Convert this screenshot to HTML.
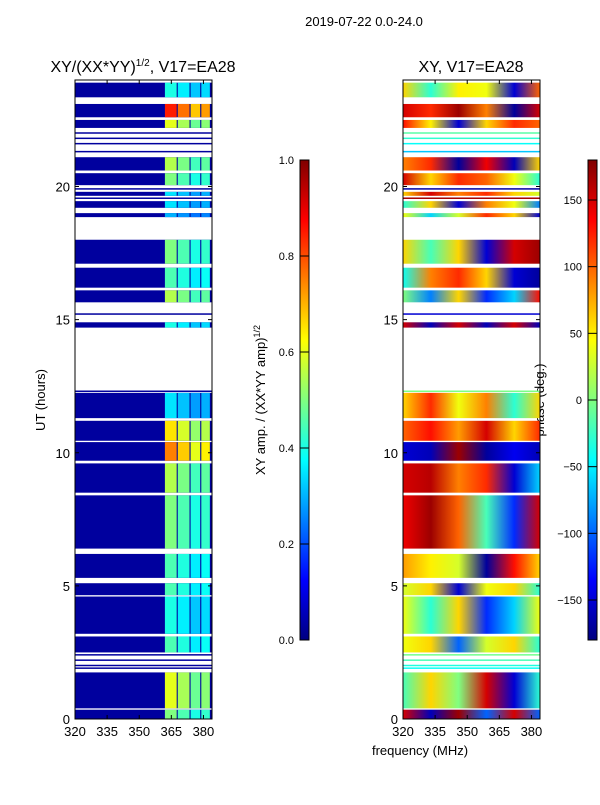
<!DOCTYPE html>
<html><head><meta charset="utf-8"><style>
body{margin:0;background:#fff;font-family:"Liberation Sans",sans-serif;}
svg text{font-family:"Liberation Sans",sans-serif;fill:#000}
</style></head><body>
<svg id="fig" width="600" height="800" viewBox="0 0 600 800" xmlns="http://www.w3.org/2000/svg">
<defs id="defs"></defs>
<text x="364" y="26" font-size="13" text-anchor="middle">2019-07-22 0.0-24.0</text>
<text x="143" y="72" font-size="16" text-anchor="middle">XY/(XX*YY)<tspan font-size="10" dy="-6">1/2</tspan><tspan dy="6">, V17=EA28</tspan></text>
<text x="471" y="72" font-size="16" text-anchor="middle">XY, V17=EA28</text>
<text transform="translate(45,400) rotate(-90)" font-size="13" text-anchor="middle">UT (hours)</text>
<text x="420" y="755" font-size="13" text-anchor="middle">frequency (MHz)</text>
<text transform="translate(265,400) rotate(-90)" font-size="13" text-anchor="middle">XY amp. / (XX*YY amp)<tspan font-size="9" dy="-5">1/2</tspan></text>
<text transform="translate(544,400) rotate(-90)" font-size="13" text-anchor="middle">phase (deg.)</text>
<g id="left"></g>
<g id="right"></g>
<g id="axes"></g>
</svg>
<script>
const blockStart=[23.35,22.6,22.2,20.6,20.05,19.65,19.2,18.85,17.1,16.2,15.65,14.7,11.3,10.45,9.7,8.5,6.4,5.3,4.65,3.2,2.5,0.4,0];
const blockEnd=[23.9,23.1,22.5,21.1,20.5,19.8,19.45,19.0,18.0,16.95,16.1,14.9,12.25,11.2,10.4,9.6,8.4,6.2,5.1,4.6,3.1,1.75,0.35];
const blockAmp=[0.4,0.85,0.6,0.55,0.5,0.35,0.35,0.3,0.5,0.45,0.55,0.4,0.35,0.65,0.75,0.55,0.5,0.45,0.45,0.4,0.45,0.6,0.5];
const blockPhase=[[60,-30,50,40,-150,100],[150,120,170,90,-170,150],[130,50,-150,60,120,100],[90,120,-170,140,-160,60],[150,60,120,100,40,-30],[60,150,90,120,60,30],[-30,60,-150,90,40,-90],[40,-60,30,120,60,-150],[60,-20,60,-150,150,170],[-40,90,120,60,-150,-170],[0,-90,60,-120,-60,130],[150,-160,150,-160,150,-160],[60,120,40,90,-30,60],[100,130,80,150,60,120],[-150,-160,170,-170,-140,-160],[150,160,90,120,-150,-60],[140,170,100,-20,-120,150],[80,50,30,-170,130,60],[30,60,-150,40,60,-30],[40,-30,60,-120,-60,40],[40,60,-100,30,60,-30],[-20,60,0,150,-150,-30],[150,-160,170,-100,150,-100]];
const thinLines=[22.0,21.8,21.6,21.3,19.9,19.55,15.2,12.3,2.4,2.2,2.0,1.9];
const bandLo=[362,368,374,379];
const bandHi=[367.5,373.5,378.5,383];
const bandScale=[1,0.9,0.8,0.85];
const phaseFreqs=[320,333,346,359,372,384];
const yTicks=[0,5,10,15,20];
const xTicks=[320,335,350,365,380];
const ampTicks=[0,0.2,0.4,0.6,0.8,1.0];
const phaseTicks=[-150,-100,-50,0,50,100,150];

const NS="http://www.w3.org/2000/svg";
const T=80,B=719;
const yH=h=>B-(B-T)*h/24;
const xL=f=>75+(f-320)*(137/64);
const xR=f=>403+(f-320)*(137/64);
function jet(v){v=Math.max(0,Math.min(1,v));
 const r=Math.max(0,Math.min(1,1.5-Math.abs(4*v-3)));
 const g=Math.max(0,Math.min(1,1.5-Math.abs(4*v-2)));
 const b=Math.max(0,Math.min(1,1.5-Math.abs(4*v-1)));
 return `rgb(${Math.round(r*255)},${Math.round(g*255)},${Math.round(b*255)})`;}
function mk(tag,attrs,parent){const e=document.createElementNS(NS,tag);for(const k in attrs)e.setAttribute(k,attrs[k]);parent.appendChild(e);return e;}
const L=document.getElementById('left'),R=document.getElementById('right'),A=document.getElementById('axes'),D=document.getElementById('defs');

blockStart.forEach((s,i)=>{
 const y1=yH(blockEnd[i]),y2=yH(s);
 const r=mk('rect',{x:75,y:y1,width:137,height:y2-y1,fill:jet(0.03)},L);
 
 
 bandLo.forEach((f,j)=>{
  const c=mk('rect',{x:xL(f),y:y1,width:xL(bandHi[j])-xL(f),height:y2-y1,fill:jet(blockAmp[i]*bandScale[j])},L);
  
  
 });
 const g=mk('linearGradient',{id:'pg'+i,x1:0,x2:1,y1:0,y2:0},D);
 blockPhase[i].forEach((p,k)=>mk('stop',{offset:((phaseFreqs[k]-320)/64),'stop-color':jet((p+180)/360)},g));
 const pr=mk('rect',{x:403,y:y1,width:137,height:y2-y1,fill:`url(#pg${i})`},R);
 
 
});
thinLines.forEach(h=>{
 const a=mk('rect',{x:75,y:yH(h)-1,width:137,height:1.5,fill:jet(0.03)},L);
 
 
 const b=mk('rect',{x:403,y:yH(h)-1,width:137,height:1.5,fill:jet(((h*73)%360)/360)},R);
 
 
});

[[75,xL],[403,xR]].forEach(([x0,xf],pi)=>{
 const f=mk('rect',{x:x0,y:T,width:137,height:B-T,fill:'none',stroke:'#000','stroke-width':1},A);
 
 
 yTicks.forEach(t=>{
  mk('line',{x1:x0,x2:x0+4,y1:yH(t),y2:yH(t),stroke:'#000'},A);
  mk('line',{x1:x0+133,x2:x0+137,y1:yH(t),y2:yH(t),stroke:'#000'},A);
  const tx=mk('text',{x:x0-5,y:yH(t)+5,'font-size':13,'text-anchor':'end'},A);tx.textContent=t;
  
  
 });
 xTicks.forEach(t=>{
  mk('line',{x1:xf(t),x2:xf(t),y1:B,y2:B-4,stroke:'#000'},A);
  mk('line',{x1:xf(t),x2:xf(t),y1:T,y2:T+4,stroke:'#000'},A);
  const tx=mk('text',{x:xf(t),y:B+17,'font-size':13,'text-anchor':'middle'},A);tx.textContent=t;
  
  
 });
});
function cbar(x,id,ticks,lo,hi,fmt,name){
 const g=mk('linearGradient',{id:id,x1:0,x2:0,y1:1,y2:0},D);
 for(let k=0;k<=8;k++)mk('stop',{offset:k/8,'stop-color':jet(k/8)},g);
 const r=mk('rect',{x:x,y:160,width:9,height:480,fill:`url(#${id})`,stroke:'#000','stroke-width':1},A);
 
 
 ticks.forEach(t=>{const y=640-480*(t-lo)/(hi-lo);
  mk('line',{x1:x,x2:x+9,y1:y,y2:y,stroke:'#000'},A);
  const tx=mk('text',{x:x-6,y:y+4,'font-size':11,'text-anchor':'end'},A);tx.textContent=fmt(t);
  
  
 });
}
cbar(300,'cb1',ampTicks,0,1,t=>t.toFixed(1),'amp-colorbar');
cbar(588,'cb2',phaseTicks,-180,180,t=>t<0?'\u2212'+(-t):String(t),'phase-colorbar');
</script>
</body></html>
